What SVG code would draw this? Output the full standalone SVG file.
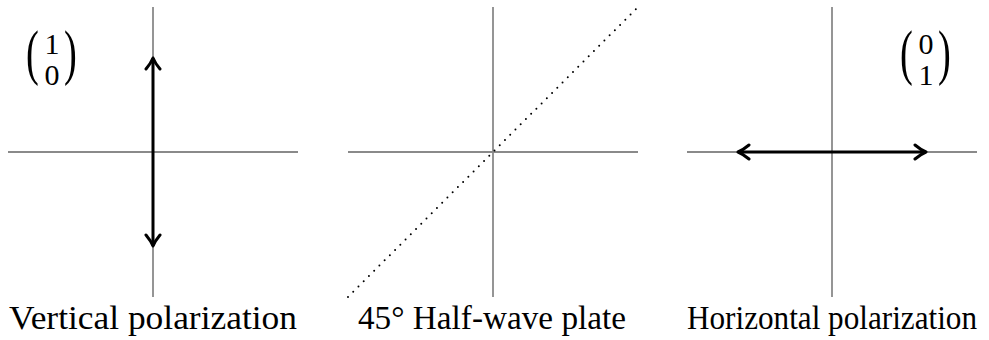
<svg xmlns="http://www.w3.org/2000/svg" width="989" height="340" viewBox="0 0 989 340">
<style>
.axis{stroke:#8a8a8a;stroke-width:1.8;fill:none}
.vec{stroke:#000;stroke-width:3;fill:none}
.dot{stroke:#000;stroke-width:2;stroke-linecap:round;stroke-dasharray:0 7.4;fill:none}
text{font-family:'Liberation Serif','DejaVu Serif',serif;fill:#000}
.lbl{font-size:33px;text-anchor:middle}
.num{font-size:30px;text-anchor:middle}
.par{font-size:62px}
</style>
<defs>
<marker id="ah" viewBox="-14 -9 16 18" refX="0" refY="0" markerWidth="16" markerHeight="18" markerUnits="userSpaceOnUse" orient="auto-start-reverse">
<path d="M-11,-7 Q-5,-2 0,0 Q-5,2 -11,7" fill="none" stroke="#000" stroke-width="3" stroke-linecap="round" stroke-linejoin="round"/>
</marker>
</defs>
<g id="panel-vertical">
<line class="axis" x1="8" y1="152" x2="298" y2="152"/>
<line class="axis" x1="153" y1="7" x2="153" y2="297"/>
<text class="par" transform="translate(26,73) scale(0.62,1)">(</text>
<text class="num" x="52" y="54">1</text>
<text class="num" x="52" y="85">0</text>
<text class="par" transform="translate(64,73) scale(0.62,1)">)</text>
<text class="lbl" x="153" y="329" textLength="288" lengthAdjust="spacingAndGlyphs">Vertical polarization</text>
</g>
<g id="panel-plate">
<line class="axis" x1="348" y1="152" x2="638" y2="152"/>
<line class="axis" x1="493" y1="7" x2="493" y2="297"/>
<text class="lbl" x="492" y="329" textLength="268" lengthAdjust="spacingAndGlyphs">45° Half-wave plate</text>
</g>
<g id="panel-horizontal">
<line class="axis" x1="687" y1="152" x2="977" y2="152"/>
<line class="axis" x1="832" y1="7" x2="832" y2="297"/>
<text class="par" transform="translate(900,73) scale(0.62,1)">(</text>
<text class="num" x="926" y="54">0</text>
<text class="num" x="926" y="85">1</text>
<text class="par" transform="translate(938,73) scale(0.62,1)">)</text>
<text class="lbl" x="832" y="329" textLength="290" lengthAdjust="spacingAndGlyphs">Horizontal polarization</text>
</g>
<g id="connectors">
<line class="vec" x1="153" y1="58" x2="153" y2="246" marker-start="url(#ah)" marker-end="url(#ah)"/>
<line class="dot" x1="348" y1="297" x2="638" y2="7"/>
<line class="vec" x1="738" y1="152" x2="926" y2="152" marker-start="url(#ah)" marker-end="url(#ah)"/>
</g>
</svg>
